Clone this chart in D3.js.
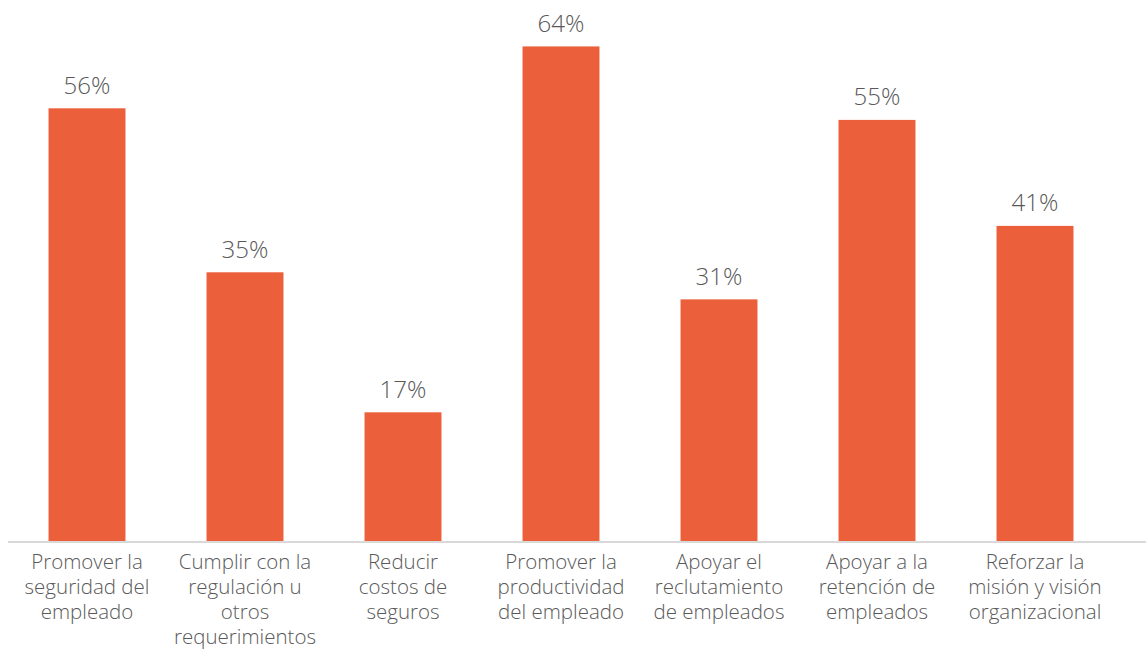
<!DOCTYPE html>
<html><head><meta charset="utf-8">
<script src="https://cdn.jsdelivr.net/npm/d3@7"></script>
<style>body{margin:0;background:#fff}</style>
</head><body>
<svg id="c" width="1146" height="649"></svg>
<script>
const categories = [
  ["Promover la","seguridad del","empleado"],
  ["Cumplir con la","regulación u","otros","requerimientos"],
  ["Reducir","costos de","seguros"],
  ["Promover la","productividad","del empleado"],
  ["Apoyar el","reclutamiento","de empleados"],
  ["Apoyar a la","retención de","empleados"],
  ["Reforzar la","misión y visión","organizacional"]
];
const values = [56.0, 34.8, 16.7, 64.0, 31.3, 54.5, 40.8];
const valueLabels = ["56%", "35%", "17%", "64%", "31%", "55%", "41%"];

const svg = d3.select("#c");
const font = "'Open Sans', sans-serif";
const x = d3.scaleBand().domain(d3.range(values.length)).range([8, 1114])
  .paddingInner(0.513).paddingOuter(0.2565);
const y = d3.scaleLinear().domain([0, 70]).range([541.5, 0]);

svg.selectAll("rect.bar").data(values).enter().append("rect")
  .attr("x", (d,i)=>x(i)).attr("width", x.bandwidth())
  .attr("y", d=>y(d)).attr("height", d=>y(0)-y(d))
  .attr("fill", "#EC5F3B");

svg.append("line").attr("x1",8).attr("x2",1146).attr("y1",542).attr("y2",542)
  .attr("stroke","#d9d9d9").attr("stroke-width",2);

svg.selectAll("text.val").data(values).enter().append("text")
  .attr("x",(d,i)=>x(i)+x.bandwidth()/2).attr("y",d=>y(d)-14.5)
  .attr("text-anchor","middle").attr("font-family",font).attr("font-weight",300)
  .attr("font-size",24).attr("fill","#595959").text((d,i)=>valueLabels[i]);

const g = svg.selectAll("text.cat").data(categories).enter().append("text")
  .attr("text-anchor","middle").attr("font-family",font).attr("font-weight",300)
  .attr("font-size",20.5).attr("fill","#595959");
g.each(function(lines,i){
  const t = d3.select(this);
  lines.forEach((l,j)=>t.append("tspan").attr("x",x(i)+x.bandwidth()/2).attr("y",569+j*25).text(l));
});
</script>
</body></html>
